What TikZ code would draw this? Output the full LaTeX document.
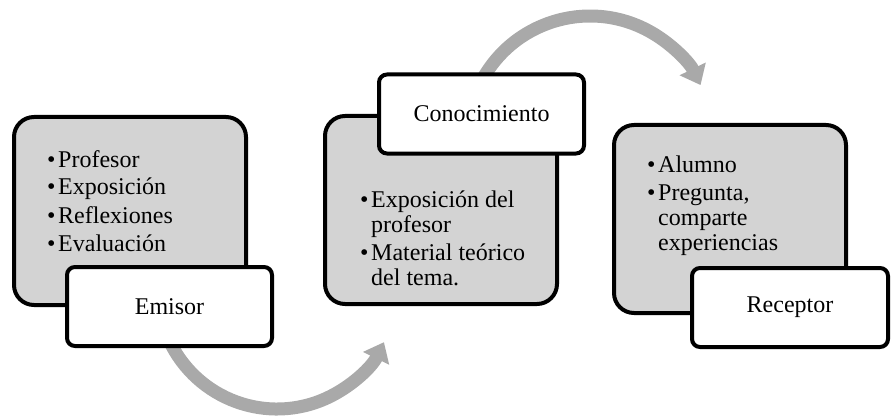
\documentclass[tikz,border=0pt]{standalone}
\usepackage{fontspec}
\setmainfont{Liberation Serif}
\usetikzlibrary{arrows.meta}

\definecolor{grisCaja}{RGB}{211,211,211}
\definecolor{grisFlecha}{RGB}{169,169,169}
\newenvironment{vinetas}{\begin{tabular}[t]{@{}p{11pt}@{}p{180pt}@{}}}{\end{tabular}}

\begin{document}
\begin{tikzpicture}[x=1pt,y=1pt,
		caja/.style={draw=black,line width=4pt,fill=grisCaja,rounded corners=20pt,minimum width=232pt,minimum height=188pt,inner sep=0pt},
		etiqueta/.style={draw=black,line width=4pt,fill=white,rounded corners=8pt,minimum width=205pt,minimum height=79pt,inner sep=0pt,font=\fontsize{24}{25}\selectfont},
		lista/.style={anchor=base west,inner sep=0pt,font=\fontsize{24}{25}\selectfont},
		flecha/.style={draw=grisFlecha,line width=13pt,-{Triangle[width=28pt,length=18pt]}}]
	\useasboundingbox (0,0) rectangle (891,-417);
	% flechas circulares
	\coordinate (giro1) at (277,-290);
	\coordinate (giro2) at (590,-139);
	\draw[flecha] (giro1) ++(205:119) arc[start angle=205,end angle=334,radius=119];
	\draw[flecha] (giro2) ++(150:123) arc[start angle=150,end angle=26,radius=123];
	% cajas grises
	\foreach \nombre/\x/\y in {caja1/130/-211, caja2/441/-210, caja3/730/-219} {
		\node[caja] (\nombre) at (\x,\y) {};
	}
	\node[lista] (lista1) at (47,-167) {\begin{vinetas}
			\textbullet & Profesor\\[3pt]
			\textbullet & Exposición\\[3pt]
			\textbullet & Reflexiones\\[3pt]
			\textbullet & Evaluación
		\end{vinetas}};
	\node[lista] (lista2) at (360,-207) {\begin{vinetas}
			\textbullet & Exposición del\newline profesor\\[3pt]
			\textbullet & Material teórico\newline del tema.
		\end{vinetas}};
	\node[lista] (lista3) at (647,-172) {\begin{vinetas}
			\textbullet & Alumno\\[3pt]
			\textbullet & Pregunta,\newline comparte\newline experiencias
		\end{vinetas}};
	% etiquetas
	\node[etiqueta] (emisor) at (169.5,-306.5) {Emisor};
	\node[etiqueta] (conocimiento) at (481.5,-114) {Conocimiento};
	\node[etiqueta,minimum width=196pt] (receptor) at (790,-307.5) {Receptor};
\end{tikzpicture}
\end{document}
